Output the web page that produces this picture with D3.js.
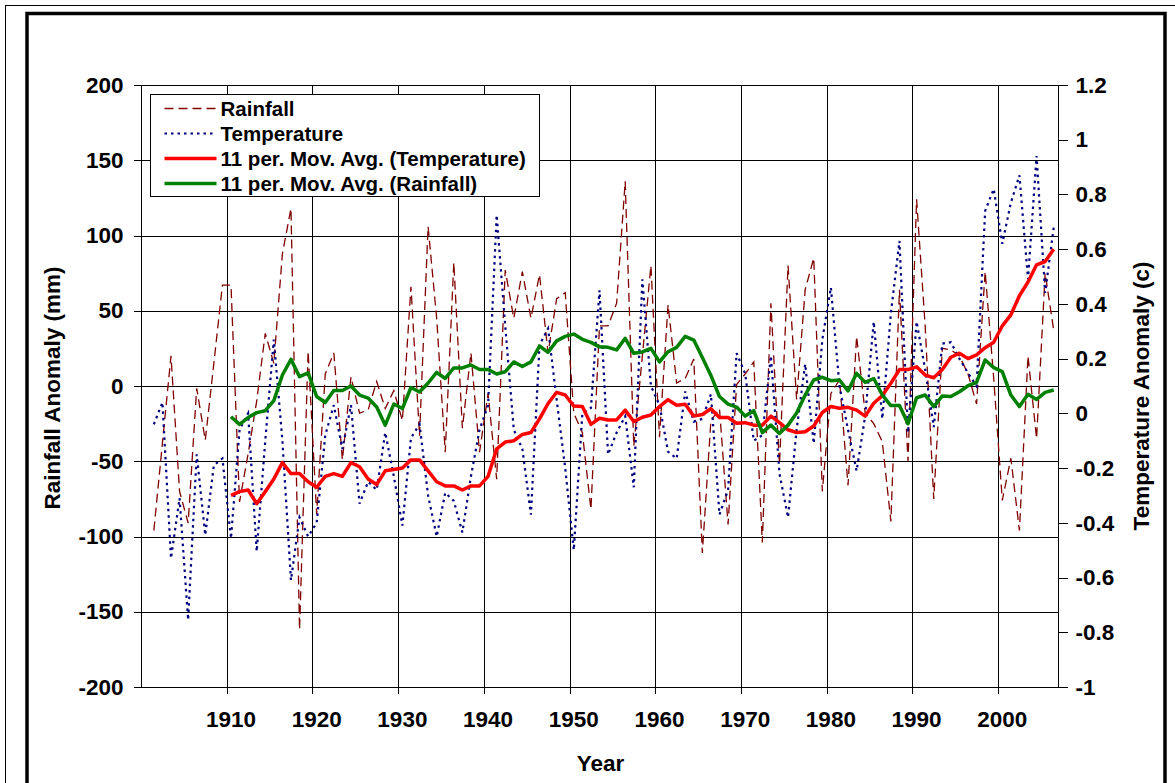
<!DOCTYPE html>
<html>
<head>
<meta charset="utf-8">
<script src="https://cdn.jsdelivr.net/npm/d3@7/dist/d3.min.js"></script>
<style>
body { margin: 0; background: #fff; }
svg text { font-family: Arial, "Liberation Sans", sans-serif; font-weight: bold; fill: #000; }
</style>
</head>
<body>
<script>
// yearly anomalies, 1901-2006
var years = d3.range(1900, 2007);          // category axis (1900 has no data)
var dataYears = d3.range(1901, 2007);
var rainfall = [
  -96, -38, 20, -70, -91, -1.5, -36, 15, 67, 67,
  -77, -45, -10, 35, 15, 88, 118, -162, 23, -85,
  8, 22, -49, 6, -18, -16, 3, -15, -3, -23,
  66, -33, 106, 45, -44, 82, -28, 22, -44, -5,
  -62, 77, 45, 76, 45, 74, 22, 58, 62, -18,
  -31, -82, 40, 40, 55, 136, -40, 20, 80, -34,
  54, 2, 5, 18, -111, -23, -15, -92, 1, 8,
  16, -104, 55, -52, 80, -9, 64, 85, -70, -5,
  4, -66, 33, -18, -25, -37, -90, 64, -50, 124,
  40, -75, 25, 24, 20, 8, -12, 76, 5, -76,
  -48, -96, 20, -35, 75, 37
];
var temperature = [
  -0.04, 0.04, -0.53, -0.31, -0.755, -0.15, -0.445, -0.19, -0.165, -0.457,
  -0.06, 0.0, -0.505, -0.1, 0.27, -0.1, -0.61, -0.38, -0.45, -0.4,
  -0.08, 0.03, -0.13, 0.03, -0.33, -0.25, -0.28, -0.07, -0.23, -0.41,
  -0.09, -0.04, -0.3, -0.45, -0.29, -0.32, -0.435, -0.23, -0.06, 0.03,
  0.725, 0.32, -0.06, -0.13, -0.37, 0.25, 0.31, 0.05, -0.2, -0.5,
  0.0, 0.02, 0.45, -0.15, -0.07, -0.01, -0.27, 0.49, 0.1, 0.03,
  -0.14, -0.165, 0.08, -0.03, -0.02, 0.07, -0.37, -0.28, 0.22, 0.145,
  -0.1, -0.08, 0.21, -0.22, -0.38, -0.06, 0.18, -0.11, 0.27, 0.46,
  0.1, -0.06, -0.21, -0.01, 0.335, -0.02, 0.366, 0.63, -0.07, 0.335,
  0.16, -0.05, 0.255, 0.26, 0.2, 0.147, 0.1, 0.74, 0.82, 0.62,
  0.77, 0.87, 0.49, 0.94, 0.44, 0.68
];

// 11 period moving averages as drawn, 1910-2006
var avgYears = d3.range(1910, 2007);
var tempAvg = [
  -0.30, -0.286, -0.28, -0.33, -0.286, -0.24, -0.18, -0.22, -0.22, -0.25,
  -0.27, -0.23, -0.22, -0.23, -0.18, -0.195, -0.24, -0.26, -0.21, -0.205,
  -0.2, -0.17, -0.17, -0.21, -0.25, -0.265, -0.265, -0.28, -0.265, -0.265,
  -0.23, -0.13, -0.105, -0.10, -0.077, -0.07, -0.02, 0.036, 0.077, 0.067,
  0.027, 0.025, -0.04, -0.018, -0.024, -0.024, 0.012, -0.03, -0.014, -0.006,
  0.025, 0.05, 0.03, 0.033, -0.01, -0.004, 0.017, -0.015, -0.015, -0.036,
  -0.034, -0.043, -0.043, -0.01, -0.034, -0.06, -0.07, -0.067, -0.046, 0.003,
  0.025, 0.019, 0.022, 0.012, -0.01, 0.037, 0.065, 0.11, 0.16, 0.16,
  0.17, 0.14, 0.13, 0.16, 0.205, 0.22, 0.2, 0.214, 0.24, 0.26,
  0.32, 0.36, 0.43, 0.48, 0.543, 0.555, 0.6
];
var rainAvg = [
  -20.4, -25.5, -21, -17.7, -16.4, -9.7, 7.3, 17.7, 6.2, 8.7,
  -7, -11, -3, -3, 0, -6, -8, -14, -26, -12,
  -15, -1, -4, 2, 9, 5, 12, 12, 14, 11,
  11, 8, 9.5, 16, 13, 16, 26.6, 22.4, 30, 33,
  34.5, 31, 29, 26, 25.7, 24, 31.7, 21.7, 22.6, 25,
  16, 22.8, 25.7, 33, 30.5, 19, 7, -7, -12, -14,
  -20, -16.4, -31, -26, -31.5, -26, -18, -6, 4, 5.8,
  3.5, 4, -3.3, 8.4, 2.4, 5, -6, -13, -13, -25,
  -7.8, -6, -13.7, -6.6, -7, -3.8, 0.2, 2.4, 17.3, 12.2,
  9.5, -6, -13.7, -5.5, -8.9, -4.2, -2.7
];

var rainTicks = [200, 150, 100, 50, 0, -50, -100, -150, -200];
var tempTicks = ["1.2", "1", "0.8", "0.6", "0.4", "0.2", "0", "-0.2", "-0.4", "-0.6", "-0.8", "-1"];
var yearTicks = d3.range(1910, 2001, 10);

var width = 1175, height = 783;
var plotL = 141, plotR = 1058, plotT = 85, plotB = 687;
var axisFont = "22.5px";

var svg = d3.select("body").append("svg")
    .attr("width", width)
    .attr("height", height);

// frames
svg.append("rect")
    .attr("x", 5.5).attr("y", 5.5)
    .attr("width", 1200).attr("height", 900)
    .attr("fill", "none").attr("stroke", "#000").attr("stroke-width", 1);
svg.append("rect")
    .attr("x", 27).attr("y", 13.5)
    .attr("width", 1138).attr("height", 900)
    .attr("fill", "none").attr("stroke", "#000").attr("stroke-width", 3.5);

var x = d3.scaleBand().domain(years).range([plotL, plotR]).padding(0);
var xc = function(yr) { return x(yr) + x.bandwidth() / 2; };
var yRain = d3.scaleLinear().domain([-200, 200]).range([plotB, plotT]);
var yTemp = d3.scaleLinear().domain([-1, 1.2]).range([plotB, plotT]);

// gridlines
var grid = svg.append("g").attr("shape-rendering", "crispEdges");
grid.selectAll(".hg")
    .data(rainTicks)
    .enter().append("line")
        .attr("x1", plotL).attr("x2", plotR)
        .attr("y1", function(d) { return Math.round(yRain(d)) + 0.5; })
        .attr("y2", function(d) { return Math.round(yRain(d)) + 0.5; })
        .attr("stroke", "#000");
grid.selectAll(".vg")
    .data(yearTicks)
    .enter().append("line")
        .attr("x1", function(d) { return Math.round(x(d)) + 0.5; })
        .attr("x2", function(d) { return Math.round(x(d)) + 0.5; })
        .attr("y1", plotT).attr("y2", plotB + 7)
        .attr("stroke", "#000");

// axes
var leftAxis = d3.axisLeft(yRain).tickValues(rainTicks).tickSize(8).tickPadding(10)
    .tickFormat(function(d) { return String(d); });
var gl = svg.append("g").attr("transform", "translate(" + (plotL + 0.5) + ",0)").call(leftAxis);
var rightAxis = d3.axisRight(yTemp).tickValues(tempTicks.map(Number)).tickSize(9).tickPadding(8)
    .tickFormat(function(d, i) { return tempTicks[i]; });
var gr = svg.append("g").attr("transform", "translate(" + (plotR + 0.5) + ",0)").call(rightAxis);
var bottomAxis = d3.axisBottom(x).tickValues(yearTicks).tickSize(0).tickPadding(24);
var gb = svg.append("g").attr("transform", "translate(0," + (plotB + 0.5) + ")").call(bottomAxis);

[gl, gr, gb].forEach(function(g) {
  g.selectAll("text").style("font-size", axisFont).style("font-weight", "bold")
      .style("font-family", "Arial, 'Liberation Sans', sans-serif").attr("fill", "#000");
  g.selectAll("line").attr("stroke", "#000");
  g.select(".domain").attr("stroke", "#000");
  g.attr("shape-rendering", "crispEdges");
});
gl.select(".domain").attr("d", "M0," + plotT + "V" + plotB);
gr.select(".domain").attr("d", "M0," + plotT + "V" + plotB);
gb.select(".domain").attr("d", "M" + plotL + ",0H" + (plotR + 9));

// axis titles
svg.append("text")
    .attr("transform", "translate(60," + ((plotT + plotB) / 2 + 2) + ") rotate(-90)")
    .attr("text-anchor", "middle")
    .style("font-size", axisFont)
    .text("Rainfall Anomaly (mm)");
svg.append("text")
    .attr("transform", "translate(1149," + ((plotT + plotB) / 2 + 10) + ") rotate(-90)")
    .attr("text-anchor", "middle")
    .style("font-size", axisFont)
    .text("Temperature Anomaly (c)");
svg.append("text")
    .attr("x", (plotL + plotR) / 2 + 1).attr("y", 771)
    .attr("text-anchor", "middle")
    .style("font-size", axisFont)
    .text("Year");

// series
var rainLine = d3.line()
    .x(function(d, i) { return xc(dataYears[i]); })
    .y(function(d) { return yRain(d); });
var tempLine = d3.line()
    .x(function(d, i) { return xc(dataYears[i]); })
    .y(function(d) { return yTemp(d); });
var rainAvgLine = d3.line()
    .x(function(d, i) { return xc(avgYears[i]); })
    .y(function(d) { return yRain(d); });
var tempAvgLine = d3.line()
    .x(function(d, i) { return xc(avgYears[i]); })
    .y(function(d) { return yTemp(d); });

var plot = svg.append("g");
plot.append("path").attr("d", rainLine(rainfall))
    .attr("fill", "none").attr("stroke", "#800000")
    .attr("stroke-width", 1.3).attr("stroke-dasharray", "9,5");
plot.append("path").attr("d", tempLine(temperature))
    .attr("fill", "none").attr("stroke", "#000080")
    .attr("stroke-width", 2.2).attr("stroke-dasharray", "2.5,4");
plot.append("path").attr("d", tempAvgLine(tempAvg))
    .attr("fill", "none").attr("stroke", "#ff0000")
    .attr("stroke-width", 3.5).attr("stroke-linejoin", "round");
plot.append("path").attr("d", rainAvgLine(rainAvg))
    .attr("fill", "none").attr("stroke", "#008000")
    .attr("stroke-width", 3.5).attr("stroke-linejoin", "round");

// legend
var legendItems = [
  { name: "Rainfall", color: "#800000", width: 1.3, dash: "9,5" },
  { name: "Temperature", color: "#000080", width: 2.2, dash: "2.5,4" },
  { name: "11 per. Mov. Avg. (Temperature)", color: "#ff0000", width: 3.5, dash: null },
  { name: "11 per. Mov. Avg. (Rainfall)", color: "#008000", width: 3.5, dash: null }
];
var legend = svg.append("g").attr("transform", "translate(150.5,94.5)");
legend.append("rect")
    .attr("width", 389).attr("height", 102)
    .attr("fill", "#fff").attr("stroke", "#000").attr("stroke-width", 1);
var li = legend.selectAll(".li")
    .data(legendItems)
    .enter().append("g")
        .attr("transform", function(d, i) { return "translate(0," + (14 + i * 25) + ")"; });
li.append("line")
    .attr("x1", 14).attr("x2", 66)
    .attr("stroke", function(d) { return d.color; })
    .attr("stroke-width", function(d) { return d.width; })
    .attr("stroke-dasharray", function(d) { return d.dash; });
li.append("text")
    .attr("x", 70).attr("dy", "0.36em")
    .style("font-size", "20.5px")
    .text(function(d) { return d.name; });
</script>
</body>
</html>
